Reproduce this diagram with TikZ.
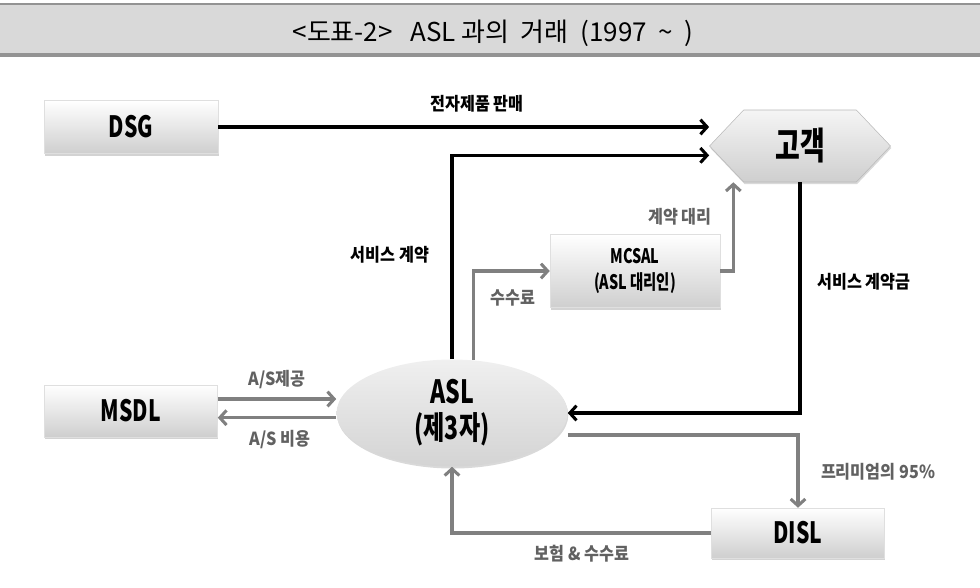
\documentclass[tikz,border=0pt]{standalone}
\usepackage{fontspec}
\setmainfont{Noto Sans CJK KR}
\newfontfamily\condfont[FakeStretch=0.72]{Noto Sans CJK KR}
\newfontfamily\labfont[FakeStretch=0.9]{Noto Sans CJK KR}
\usepackage{tikz}
\usetikzlibrary{arrows.meta,shapes.symbols,shapes.geometric,shadows}

\tikzset{
  caja/.style={draw=gray!25, top color=white, bottom color=gray!38,
    drop shadow={shadow xshift=0.6pt, shadow yshift=-1.8pt, opacity=0.35},
    inner sep=0pt, font=\condfont\bfseries\fontsize{22}{24}\selectfont},
  etiq/.style={font=\labfont\bfseries\fontsize{13.5}{15}\selectfont, inner sep=1pt},
  etiqgris/.style={etiq, text=black!62},
  flechanegra/.style={line width=2.3pt, black, -{Straight Barb[length=5pt,width=11pt]}},
  flechagris/.style={line width=2.3pt, gray, -{Straight Barb[length=5pt,width=11pt]}}
}

\begin{document}
\begin{tikzpicture}[x=0.75pt,y=-0.75pt]
  \useasboundingbox (0,0) rectangle (980,587);

  % Titulo
  \fill[gray!30] (0,5) rectangle (980,55);
  \draw[gray!85, line width=1.8pt] (0,4) -- (980,4);
  \draw[gray!85, line width=2.6pt] (0,55) -- (980,55);
  \node[font=\fontsize{19.5}{22}\selectfont] (titulo) at (493,33)
    {<도표-2>\ \ \ ASL 과의\ \ 거래\ \ (1997\ \ {\char"7E}\ \ )};

  % Nodos
  \node[caja, minimum width=130.5pt, minimum height=39.75pt] (dsg) at (131,127) {DSG};
  \node[signal, signal to=west and east, signal pointer angle=93,
        draw=gray!55, top color=gray!8, bottom color=gray!38,
        drop shadow={shadow xshift=0.6pt, shadow yshift=-1.5pt, opacity=0.3},
        minimum width=135.75pt, minimum height=54pt, inner sep=0pt,
        font=\condfont\bfseries\fontsize{28}{30}\selectfont] (cliente) at (800,146) {고객};
  \node[caja, minimum width=127.5pt, minimum height=54.75pt, align=center,
        font=\condfont\bfseries\fontsize{15}{19}\selectfont] (mcsal) at (635,271)
        {MCSAL\\(ASL 대리인)};
  \node[caja, minimum width=129.75pt, minimum height=39pt] (msdl) at (131,411) {MSDL};
  \node[ellipse, top color=gray!12, bottom color=gray!34,
        drop shadow={shadow xshift=0.6pt, shadow yshift=-1.5pt, opacity=0.3},
        minimum width=173.25pt, minimum height=80.25pt, inner sep=0pt, align=center,
        font=\condfont\bfseries\fontsize{24}{27}\selectfont] (asl) at (452,413)
        {ASL\\(제3자)};
  \node[caja, minimum width=129.75pt, minimum height=37.5pt] (disl) at (798,533) {DISL};

  % Flechas negras
  \draw[flechanegra] (dsg.east) -- (dsg.east -| cliente.west);
  \draw[flechanegra] (asl.north) |- ([yshift=-7pt]cliente.west);
  \draw[flechanegra] (cliente.south) |- (asl.east);

  % Flechas grises
  \draw[flechagris] (asl.68) |- (mcsal.west);
  \draw[flechagris] (mcsal.east) -| ([xshift=-50pt]cliente.south);
  \draw[flechagris] ([yshift=9pt]msdl.east) -- ([yshift=9pt]msdl.east -| asl.west);
  \draw[flechagris] ([yshift=-5pt]msdl.east -| asl.west) -- ([yshift=-5pt]msdl.east);
  \draw[flechagris] ([yshift=-16.5pt]asl.east) -| (disl.north);
  \draw[flechagris] (disl.west) -| (asl.south);

  % Etiquetas
  \node[etiq] (venta) at (477,104) {전자제품 판매};
  \node[etiq] (contrato) at (390,255) {서비스 계약};
  \node[etiq] (pago) at (864,282) {서비스 계약금};
  \node[etiqgris] (comision) at (513,298) {수수료};
  \node[etiqgris] (agencia) at (680,217) {계약 대리};
  \node[etiqgris] (asprov) at (277,380) {A/S제공};
  \node[etiqgris] (ascoste) at (280,440) {A/S 비용};
  \node[etiqgris] (prima) at (878,472) {프리미엄의 95\%};
  \node[etiqgris] (seguro) at (582,554) {보험 \& 수수료};
\end{tikzpicture}
\end{document}
